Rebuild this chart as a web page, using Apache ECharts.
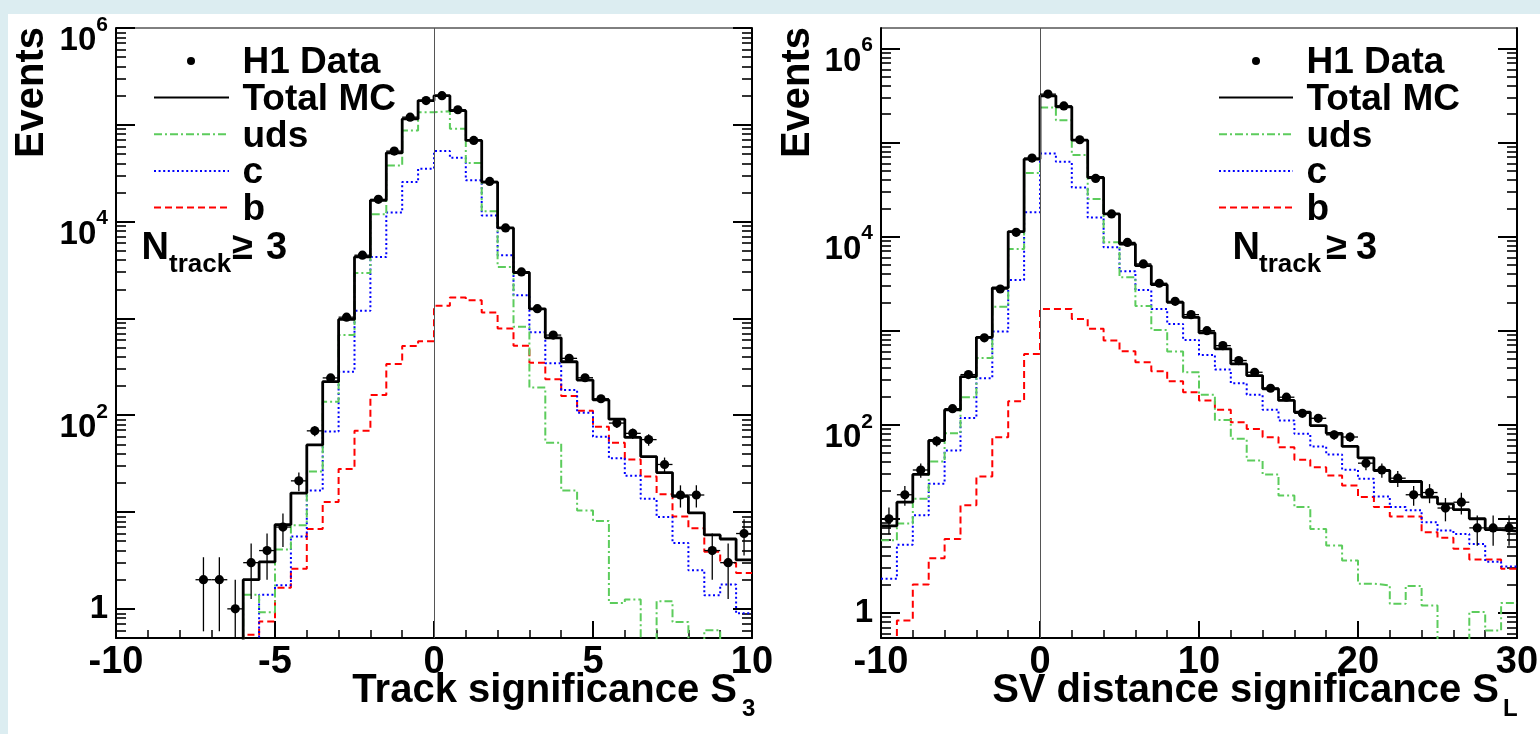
<!DOCTYPE html>
<html><head><meta charset="utf-8">
<script src="https://cdn.jsdelivr.net/npm/echarts@6.0.0/dist/echarts.min.js"></script>
<style>
html,body{margin:0;padding:0;width:1540px;height:734px;overflow:hidden;background:#dcedf1;}
#panel{position:absolute;left:8px;top:14px;right:0;bottom:0;background:#fff;}
#chart{position:absolute;left:0;top:0;width:1540px;height:734px;}
</style></head><body><div id="panel"></div><div id="chart"></div>
<script>
// ---------- Track significance S3 : 40 bins of width 0.5 on [-10, 10] ----------
const s3Range = [-10, 10];
const s3BinWidth = 0.5;
const s3Data = [null, null, null, null, null, 2, 2, 1, 3, 4,
  7, 21, 69, 243, 1030, 4500, 17000, 53500, 120000, 178000,
  200000, 143000, 68900, 26000, 8600, 3020, 1260, 673, 387, 244,
  148, 83, 65, 56, 31, 15, 15, 4, 3, 6];
const s3Total = [0, 0, 0, 0, 0, 0, 0, 0, 2.0, 3.05,
  7.4, 15.7, 49.4, 222, 977, 4315, 16600, 51400, 115000, 178000,
  200000, 140000, 68900, 25600, 8600, 2980, 1256, 631, 357, 231,
  144, 91, 59, 37.4, 25.6, 14.5, 9.8, 5.8, 5.27, 3.2];
const s3Uds = [0, 0, 0, 0, 0, 0, 0, 0, 1.4, 0.92,
  4.1, 7.3, 26.2, 138, 673, 2950, 11900, 38000, 87300, 135000,
  138000, 91000, 40200, 12800, 3400, 819, 193, 52, 16.7, 10.4,
  8.1, 1.15, 1.25, 0, 1.2, 0.73, 0, 0.6, 0, 0];
const s3C = [0, 0, 0, 0, 0, 0, 0, 0, 0, 1.4,
  1.75, 5.6, 16.7, 67.8, 282, 1200, 4300, 12400, 25600, 35200,
  53500, 45700, 26700, 11600, 4500, 1740, 718, 344, 182, 106,
  60, 36, 23.7, 13.7, 8.9, 4.8, 2.5, 1.38, 1.78, 0.9];
const s3B = [0, 0, 0, 0, 0, 0, 0, 0, 0.54, 0.74,
  1.65, 2.6, 6.7, 12.7, 27.9, 69, 162, 338, 519, 580,
  1350, 1645, 1545, 1153, 789, 522, 349, 235, 158, 111,
  76, 52, 35, 23.3, 15.3, 9.0, 6.8, 3.9, 3.0, 2.35];
const s3XInterval = 5;

// ---------- SV distance significance SL : 40 bins of width 1 on [-10, 30] ----------
const slRange = [-10, 30];
const slBinWidth = 1;
const slData = [10, 18, 33, 67, 148, 341, 838, 2770, 11100, 68400,
  327000, 245000, 107000, 41500, 17400, 8670, 5120, 3190, 2050, 1480,
  1000, 693, 481, 361, 244, 196, 132, 117, 78, 74,
  39, 33, 27, 18, 19, 13, 15, 8, 8, 8];
const slTotal = [8.4, 15.0, 29.6, 68, 144, 325, 850, 2850, 11300, 66700,
  314000, 240000, 106000, 42600, 17400, 8340, 4910, 3080, 2000, 1386,
  950, 640, 443, 333, 241, 181, 136, 98, 81, 58.7,
  44.5, 32.6, 24.9, 24.9, 17, 14.4, 12.5, 10, 7.65, 7.4];
const slUds = [5.9, 8.9, 16.3, 40.6, 81, 196, 513, 1800, 7380, 47300,
  236000, 173000, 73600, 25100, 8680, 3690, 1830, 1018, 600, 361,
  208, 112, 70.8, 41.7, 29.6, 17.7, 13.3, 7.8, 5.2, 3.6,
  2.04, 1.96, 1.25, 1.93, 1.2, 0, 0, 1.02, 0.65, 1.27];
const slC = [2.3, 5.3, 10.9, 23.6, 53.2, 118, 312, 977, 3460, 18100,
  76500, 62500, 33300, 16000, 7680, 4270, 2700, 1700, 1180, 797,
  552, 386, 276, 208, 144, 111, 80, 58.7, 48.3, 33.2,
  26.6, 17.3, 13.3, 12.3, 9.2, 7.5, 6.9, 5.4, 3.5, 3.1];
const slB = [0, 0.83, 2.0, 3.8, 6.1, 13.9, 28.2, 73.6, 178, 566,
  1700, 1700, 1333, 1045, 784, 604, 461, 370, 290, 221,
  181, 144, 106, 90, 73.6, 57.7, 42.4, 35.4, 28.8, 22.6,
  17, 13.3, 10.6, 10.6, 7.2, 6.3, 4.8, 3.7, 3.7, 2.95];
const slXInterval = 10;

// ---------- axes ----------
const s3YRange = [0.5, 1e6];
const slYRange = [0.54, 1.65e6];
const yMajorTicks = [1, 10, 100, 1e3, 1e4, 1e5, 1e6];
const yLabelTicks = [1, 100, 1e4, 1e6];
const yMinorMultipliers = [2, 3, 4, 5, 6, 7, 8, 9];

const legendNames = ['H1 Data', 'Total MC', 'uds', 'c', 'b'];
const s3Title = ['Track significance S', '3'];
const slTitle = ['SV distance significance S', 'L'];
const yTitle = 'Events';

// ---------- styling ----------
const FONT = '"Liberation Sans", Arial, Helvetica, sans-serif';
const GREEN = '#5ccc5c', BLUE = '#0000ff', RED = '#ff0000';
const styles = {
  total: {color: '#000', width: 2.8, type: 'solid'},
  uds: {color: GREEN, width: 2, type: [8, 3, 2, 3]},
  c: {color: BLUE, width: 2, type: [2, 2.6]},
  b: {color: RED, width: 2, type: [7, 4]}
};
const FLOOR = 1e-3;

function minorTicks(range) {
  const out = [];
  for (let d = -1; d <= 6; d++) {
    yMinorMultipliers.forEach(m => {
      const v = m * Math.pow(10, d);
      if (v >= range[0] && v <= range[1]) out.push(v);
    });
  }
  return out;
}
function binEdges(range, w, n) {
  const e = [];
  for (let i = 0; i <= n; i++) e.push(range[0] + i * w);
  return e;
}
function stepData(vals, range, w) {
  const e = binEdges(range, w, vals.length);
  const d = vals.map((v, i) => [e[i], v > 0 ? v : FLOOR]);
  const last = vals[vals.length - 1];
  d.push([e[vals.length], last > 0 ? last : FLOOR]);
  return d;
}
function pointData(vals, range, w) {
  const out = [];
  vals.forEach((v, i) => { if (v != null && v > 0) out.push([range[0] + (i + 0.5) * w, v, w / 2]); });
  return out;
}
function renderPoint(params, api) {
  const x = api.value(0), v = api.value(1), hw = api.value(2);
  const err = Math.sqrt(v);
  const cs = params.coordSys;
  const clipY = y => Math.min(Math.max(y, cs.y), cs.y + cs.height);
  const c = api.coord([x, v]);
  const hi = api.coord([x, v + err]);
  const lo = api.coord([x, Math.max(v - err, FLOOR)]);
  const l = api.coord([x - hw, v]), r = api.coord([x + hw, v]);
  return {type: 'group', children: [
    {type: 'line', shape: {x1: c[0], y1: clipY(hi[1]), x2: c[0], y2: clipY(lo[1])}, style: {stroke: '#000', lineWidth: 1.3}},
    {type: 'line', shape: {x1: l[0], y1: c[1], x2: r[0], y2: c[1]}, style: {stroke: '#000', lineWidth: 1.3}},
    {type: 'circle', shape: {cx: c[0], cy: c[1], r: 4.6}, style: {fill: '#000'}}
  ]};
}
function yLabel(v) {
  const e = Math.round(Math.log10(v));
  return e === 0 ? '{one|1}' : '{b|10}{s|' + e + '}';
}
const yRich = {
  one: {fontSize: 33, fontWeight: 'bold', fontFamily: FONT, color: '#000'},
  b: {fontSize: 33, fontWeight: 'bold', fontFamily: FONT, color: '#000', padding: [26, 0, 0, 0]},
  s: {fontSize: 21, fontWeight: 'bold', fontFamily: FONT, color: '#000', verticalAlign: 'top', padding: [16, 0, 0, 0]}
};

function makeXAxis(gi, range, interval) {
  return {
    type: 'value', gridIndex: gi, min: range[0], max: range[1], interval: interval,
    axisLine: {show: true, onZero: false, lineStyle: {color: '#000', width: 2}},
    axisTick: {show: true, inside: true, length: 17, lineStyle: {color: '#000', width: 2}},
    minorTick: {show: true, splitNumber: 5, length: 8, lineStyle: {color: '#000', width: 1.5}},
    axisLabel: {color: '#000', fontSize: 38, fontWeight: 'bold', fontFamily: FONT, margin: 6},
    splitLine: {show: false}, minorSplitLine: {show: false}
  };
}
function makeYAxes(gi, range) {
  const base = {type: 'log', logBase: 10, gridIndex: gi, min: range[0], max: range[1],
    splitLine: {show: false}, minorTick: {show: false}};
  const minors = minorTicks(range);
  return [
    Object.assign({}, base, {position: 'left',
      axisLine: {show: true, onZero: false, lineStyle: {color: '#000', width: 2}},
      axisTick: {show: true, inside: true, length: 19, customValues: yMajorTicks, lineStyle: {color: '#000', width: 2}},
      axisLabel: {show: true, customValues: yLabelTicks, formatter: yLabel, rich: yRich, margin: 8, color: '#000'}}),
    Object.assign({}, base, {position: 'left', axisLine: {show: false, onZero: false},
      axisTick: {show: true, inside: true, length: 10, customValues: minors, lineStyle: {color: '#000', width: 1.6}},
      axisLabel: {show: false}}),
    Object.assign({}, base, {position: 'right',
      axisLine: {show: true, onZero: false, lineStyle: {color: '#000', width: 2}},
      axisTick: {show: true, inside: true, length: 19, customValues: yMajorTicks, lineStyle: {color: '#000', width: 2}},
      axisLabel: {show: false}}),
    Object.assign({}, base, {position: 'right', axisLine: {show: false, onZero: false},
      axisTick: {show: true, inside: true, length: 10, customValues: minors, lineStyle: {color: '#000', width: 1.6}},
      axisLabel: {show: false}})
  ];
}
function histSeries(name, vals, range, w, gi, st, withZeroLine) {
  const s = {
    name: name, type: 'line', step: 'end', xAxisIndex: gi, yAxisIndex: gi * 4,
    data: stepData(vals, range, w), symbol: 'none', clip: true, silent: true,
    lineStyle: {color: st.color, width: st.width, type: st.type}, z: 3
  };
  if (withZeroLine) {
    s.markLine = {silent: true, symbol: ['none', 'none'], label: {show: false},
      lineStyle: {color: '#555', width: 1, type: 'solid'}, data: [{xAxis: 0}], animation: false};
  }
  return s;
}
function panelSeries(gi, range, w, data, total, uds, c, b) {
  return [
    histSeries('b', b, range, w, gi, styles.b, true),
    histSeries('c', c, range, w, gi, styles.c),
    histSeries('uds', uds, range, w, gi, styles.uds),
    histSeries('Total MC', total, range, w, gi, styles.total),
    {name: 'H1 Data', type: 'custom', xAxisIndex: gi, yAxisIndex: gi * 4, clip: true, z: 5,
      renderItem: renderPoint, data: pointData(data, range, w), silent: true}
  ];
}

// ---------- graphic text (legends, titles) ----------
function txt(x, baseline, text, fs, opts) {
  opts = opts || {};
  return {type: 'text', x: x, y: baseline - 0.347 * fs, silent: true, rotation: opts.rotation || 0,
    style: {text: text, fill: '#000', font: 'bold ' + fs + 'px ' + FONT,
      align: opts.align || 'left', verticalAlign: 'middle'}};
}
function legendGraphics(dx, lineX1, lineX2, dotX, nX) {
  const g = [];
  const B0 = 76, dy = 36.7;
  g.push({type: 'circle', shape: {cx: dotX, cy: 61, r: 4}, style: {fill: '#000'}, silent: true});
  const ls = [styles.total, styles.uds, styles.c, styles.b];
  ls.forEach((st, i) => {
    const y = B0 + dy * (i + 1) - 15.2;
    g.push({type: 'line', silent: true, shape: {x1: lineX1, y1: y, x2: lineX2, y2: y},
      style: {stroke: st.color, lineWidth: st.width === 2.8 ? 2.2 : 2, lineDash: Array.isArray(st.type) ? st.type : null}});
  });
  legendNames.forEach((n, i) => g.push(txt(dx, B0 + dy * i, n, 37)));
  g.push(txt(nX[0], 262, 'N', 38));
  g.push(txt(nX[1], 274, 'track', 26));
  g.push(txt(nX[2], 262, '\u2265', 38));
  g.push(txt(nX[3], 262, '3', 38));
  return g;
}
const graphics = [].concat(
  legendGraphics(242.5, 154, 229, 191, [141.5, 169, 232, 266]),
  legendGraphics(1306.5, 1219, 1293, 1256, [1232.5, 1259, 1326, 1356]),
  [
    {type: 'text', x: 31.8, y: 92.5, rotation: Math.PI / 2, silent: true,
      style: {text: yTitle, fill: '#000', font: 'bold 40px ' + FONT, align: 'center', verticalAlign: 'middle'}},
    {type: 'text', x: 797.8, y: 92.5, rotation: Math.PI / 2, silent: true,
      style: {text: yTitle, fill: '#000', font: 'bold 40px ' + FONT, align: 'center', verticalAlign: 'middle'}},
    txt(737, 705, s3Title[0], 40, {align: 'right'}),
    txt(742, 718, s3Title[1], 24),
    txt(1499, 705, slTitle[0], 40, {align: 'right'}),
    txt(1503, 718, slTitle[1], 24)
  ]
);

const chart = echarts.init(document.getElementById('chart'), null, {renderer: 'canvas'});
chart.setOption({
  animation: false,
  backgroundColor: 'transparent',
  grid: [
    {left: 116, top: 28, width: 636, height: 610, show: true, borderColor: '#000', borderWidth: 1, backgroundColor: 'transparent', containLabel: false, outerBoundsMode: 'none'},
    {left: 881, top: 28, width: 636, height: 610, show: true, borderColor: '#000', borderWidth: 1, backgroundColor: 'transparent', containLabel: false, outerBoundsMode: 'none'}
  ],
  xAxis: [makeXAxis(0, s3Range, s3XInterval), makeXAxis(1, slRange, slXInterval)],
  yAxis: [].concat(makeYAxes(0, s3YRange), makeYAxes(1, slYRange)),
  series: [].concat(
    panelSeries(0, s3Range, s3BinWidth, s3Data, s3Total, s3Uds, s3C, s3B),
    panelSeries(1, slRange, slBinWidth, slData, slTotal, slUds, slC, slB)
  ),
  graphic: graphics
});
</script></body></html>
